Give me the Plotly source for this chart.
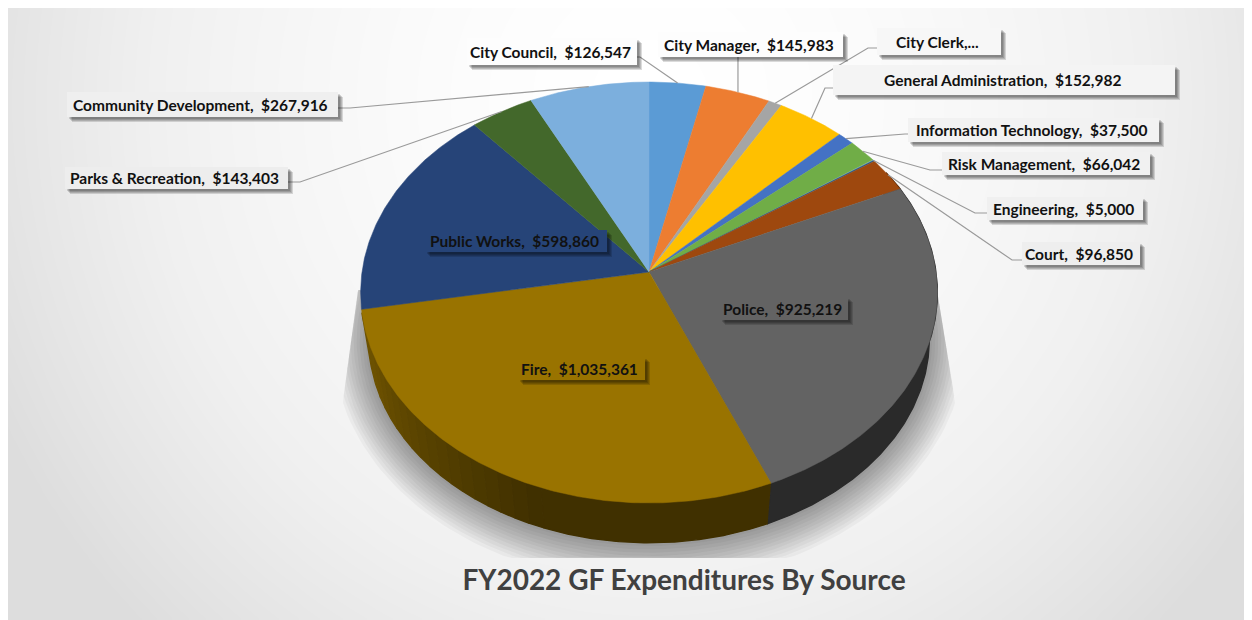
"""FY2022 GF expenditures drawn as a tilted 3D-looking pie."""
import numpy as np
import plotly.graph_objects as go

categories = ['City Council', 'City Manager', 'City Clerk', 'General Administration',
              'Information Technology', 'Risk Management', 'Engineering', 'Court',
              'Police', 'Fire', 'Public Works', 'Parks & Recreation',
              'Community Development']
# City Clerk's label is cut off in the picture, value estimated from its slice
values = [126547, 145983, 30000, 152982, 37500, 66042, 5000, 96850,
          925219, 1035361, 598860, 143403, 267916]
slice_colors = ['#5b9bd5', '#ed7d31', '#a5a5a5', '#ffc000', '#4472c4', '#70ad47',
                '#255e91', '#9e480e', '#636363', '#997300', '#264478', '#43682b',
                '#7cafdd']
label_texts = ['City Council,  $126,547', 'City Manager,  $145,983', 'City Clerk,...',
               'General Administration,  $152,982', 'Information Technology,  $37,500',
               'Risk Management,  $66,042', 'Engineering,  $5,000', 'Court,  $96,850',
               'Police,  $925,219', 'Fire,  $1,035,361', 'Public Works,  $598,860',
               'Parks & Recreation,  $143,403', 'Community Development,  $267,916']

# label box (x0, y0, x1, y1) in pixels, per category
label_boxes = [(467, 38, 637, 65), (658, 32, 843, 57), (877, 28, 1001, 55),
               (833, 65, 1175, 95), (908, 118, 1159, 142), (942, 152, 1150, 175),
               (987, 197, 1143, 220), (1022, 242, 1140, 265), (720, 297, 848, 320),
               (518, 357, 645, 380), (425, 230, 607, 252), (65, 167, 288, 189),
               (67, 92, 338, 117)]
# leader line: box end and elbow, None for labels sitting on their slice
leaders = [((637, 57), (640, 57)), ((738, 57), (738, 57)), ((877, 48), (868, 48)),
           ((833, 88), (825, 88)), ((908, 134), (905, 134)), ((942, 170), (930, 170)),
           ((987, 213), (975, 213)), ((1022, 260), (1012, 260)), None, None, None,
           ((288, 182), (300, 182)), ((338, 108), (350, 108))]

W, H = 1252, 620
PAGE_MARGIN = 8  # the page's body margin pushes the plot by this much
TILT = 0.0974
TOP = (649, 272, 287, 208.5)
BOTTOM = (649, 319, 279, 202)
WALL_START, WALL_END = 60, 259


def project(theta, ellipse):
    """Angle clockwise from 12 o'clock to pixel position, with perspective."""
    cx, cy, a, b = ellipse
    d = 1 + TILT * np.cos(theta)
    return cx + a * np.sin(theta) / d, cy - b * np.cos(theta) / d


def backdrop(x, y):
    d = np.sqrt(((x - 650) / 640) ** 2 + ((y - 100) / 657) ** 2)
    return 255 - np.minimum(48 * d ** 1.6, 58)


def wall_shade(deg):
    return float(np.clip(0.42 + (deg - 200) / 50 * 0.30, 0.42, 0.72))


def scaled_hex(color, k):
    r, g, b = (int(color[i:i + 2], 16) for i in (1, 3, 5))
    return f'rgb({r * k:.0f},{g * k:.0f},{b * k:.0f})'


def clip_shadow(x, y):
    y = np.clip(y, 290, 558)
    inset = np.clip((400 - y) / 110, 0, 1)
    return np.clip(x, 343 + 15 * inset, 955 - 18 * inset), y


fig = go.Figure()

gx = np.linspace(7, W + PAGE_MARGIN, 160)
gy = np.linspace(3, 618, 90)
gxx, gyy = np.meshgrid(gx, gy)
fig.add_trace(go.Heatmap(x=gx, y=gy, z=backdrop(gxx, gyy), zmin=0, zmax=255, zsmooth='best',
                         colorscale='Greys_r', showscale=False, hoverinfo='skip'))

# soft shadow under the pie
circle = np.linspace(0, 2 * np.pi, 240)
for grow in range(3, 39, 3):
    cx, cy, a, b = BOTTOM
    sx, sy = clip_shadow(*project(circle, (cx, cy, a + grow, b + grow)))
    fig.add_trace(go.Scatter(x=sx, y=sy, mode='lines', fill='toself', line=dict(width=0),
                             fillcolor='rgba(0,0,0,0.035)', hoverinfo='skip'))

fractions = np.array(values) / sum(values)
edges = np.concatenate([[0], np.cumsum(fractions)]) * 360

# side wall, split into strips only where it shades along the rim
for i, color in enumerate(slice_colors):
    start, end = max(edges[i], WALL_START), min(edges[i + 1], WALL_END)
    if end <= start:
        continue
    steps = np.arange(200, 250, 3.0)
    cuts = np.concatenate([[start], steps[(steps > start) & (steps < end)], [end]])
    for d0, d1 in zip(cuts[:-1], cuts[1:]):
        t = np.radians(np.linspace(d0, d1, max(int(d1 - d0) * 2, 4)))
        ux, uy = project(t, TOP)
        lx, ly = project(t[::-1], BOTTOM)
        shade = scaled_hex(color, wall_shade(d0))
        fig.add_trace(go.Scatter(x=np.concatenate([ux, lx]), y=np.concatenate([uy, ly]),
                                 mode='lines', fill='toself', fillcolor=shade,
                                 line=dict(width=1.4, color=shade), hoverinfo='skip'))

# top face
for i, (name, color) in enumerate(zip(categories, slice_colors)):
    t = np.radians(np.linspace(edges[i], edges[i + 1], max(int(edges[i + 1] - edges[i]) * 2, 4)))
    rx, ry = project(t, TOP)
    fig.add_trace(go.Scatter(x=np.concatenate([[TOP[0]], rx, [TOP[0]]]),
                             y=np.concatenate([[TOP[1]], ry, [TOP[1]]]),
                             mode='lines', fill='toself', fillcolor=color, name=name,
                             line=dict(width=0.5, color=color), hoverinfo='name'))

# leader lines from the slice's rim to the label
for i, leader in enumerate(leaders):
    if leader is None:
        continue
    rim_x, rim_y = project(np.radians((edges[i] + edges[i + 1]) / 2), TOP)
    fig.add_trace(go.Scatter(x=[leader[0][0], leader[1][0], rim_x],
                             y=[leader[0][1], leader[1][1], rim_y],
                             mode='lines', line=dict(width=1.2, color='#9a9a9a'),
                             hoverinfo='skip'))

# label boxes with a drop shadow on the lower right side
shapes = []
annotations = []
for i, (x0, y0, x1, y1) in enumerate(label_boxes):
    for off in (5, 4, 3, 2):
        shapes.append(dict(type='rect', x0=x0 + off, y0=y0 + off, x1=x1 + off, y1=y1 + off,
                           line_width=0, fillcolor='rgba(0,0,0,0.14)'))
    if leaders[i] is None:
        fill = slice_colors[i]
    else:
        shade = backdrop((x0 + x1) / 2, (y0 + y1) / 2)
        shade = shade + (255 - shade) * 0.4
        fill = f'rgb({shade:.0f},{shade:.0f},{shade:.0f})'
    shapes.append(dict(type='rect', x0=x0, y0=y0, x1=x1, y1=y1, line_width=0, fillcolor=fill))
    annotations.append(dict(x=(x0 + x1) / 2 - 2, y=(y0 + y1) / 2, text=f'<b>{label_texts[i]}</b>',
                            showarrow=False, xanchor='center', yanchor='middle',
                            font=dict(family='Lato, Open Sans, sans-serif', size=15.5, color='#111111')))

fig.update_layout(
    width=W, height=H,
    margin=dict(l=0, r=0, t=0, b=0),
    autosize=False,
    showlegend=False,
    paper_bgcolor='white',
    plot_bgcolor='white',
    xaxis=dict(range=[PAGE_MARGIN, W + PAGE_MARGIN], visible=False, fixedrange=True),
    yaxis=dict(range=[H + PAGE_MARGIN, PAGE_MARGIN], visible=False, fixedrange=True),
    shapes=shapes,
    annotations=annotations,
    title=dict(text='<b>FY2022 GF Expenditures By Source</b>',
               x=(684 - PAGE_MARGIN) / W, xanchor='center',
               y=1 - (580 - PAGE_MARGIN) / H, yanchor='middle',
               font=dict(family='Lato, Open Sans, sans-serif', size=28, color='#404040')),
)

fig.write_html("out.html")
